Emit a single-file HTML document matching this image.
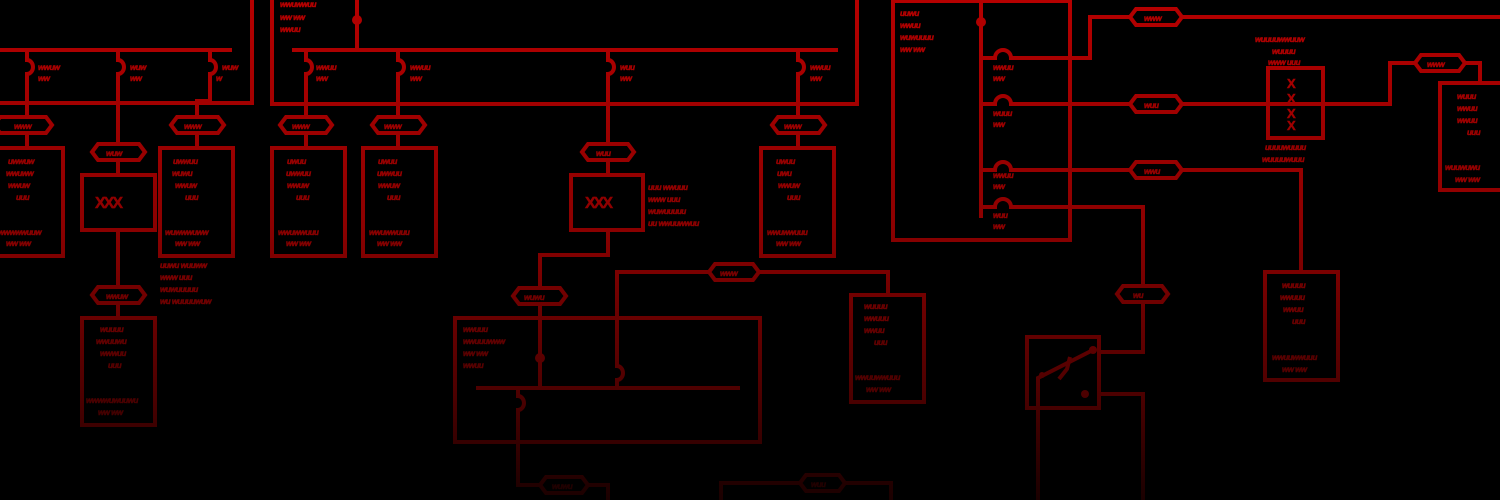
<!DOCTYPE html>
<html><head><meta charset="utf-8"><style>
html,body{margin:0;padding:0;background:#000;width:1500px;height:500px;overflow:hidden}
svg{display:block}
text{font-family:"Liberation Sans",sans-serif;font-size:8px;font-weight:bold;font-style:italic;letter-spacing:-0.5px}
</style></head><body>
<svg width="1500" height="500" viewBox="0 0 1500 500" xmlns="http://www.w3.org/2000/svg">
<defs>
<linearGradient id="g" gradientUnits="userSpaceOnUse" x1="0" y1="0" x2="0" y2="500">
<stop offset="0" stop-color="#b50000"/>
<stop offset="0.45" stop-color="#8c0000"/>
<stop offset="0.8" stop-color="#4a0000"/>
<stop offset="1" stop-color="#1a0000"/>
</linearGradient>
</defs>
<g fill="none" stroke="url(#g)" stroke-width="4" stroke-linejoin="miter">
<!-- LEFT SECTION -->
<path d="M252 0V103H0"/>
<path d="M0 50H232"/>
<path d="M27 50V60a6 7 0 0 1 0 14V117"/>
<path d="M27 133V148"/>
<path d="M118 50V60a6 7 0 0 1 0 14V144"/>
<path d="M118 160V175M118 230V287M118 303V318"/>
<path d="M210 50V60a6 7 0 0 1 0 14V101H197V117M197 133V148"/>
<path d="M-6 125l6-8h46l6 8l-6 8h-46z"/>
<path d="M92 152l6-8h41l6 8l-6 8h-41z"/>
<path d="M92 295l6-8h41l6 8l-6 8h-41z"/>
<path d="M171 125l6-8h41l6 8l-6 8h-41z"/>
<rect x="-10" y="148" width="73" height="108"/>
<rect x="82" y="175" width="73" height="55"/>
<rect x="82" y="318" width="73" height="107"/>
<rect x="160" y="148" width="73" height="108"/>
<!-- MIDDLE SECTION -->
<path d="M272 0V104H857V0"/>
<path d="M357 0V50M292 50H838"/>
<path d="M306 50V60a6 7 0 0 1 0 14V117M306 133V148"/>
<path d="M398 50V60a6 7 0 0 1 0 14V117M398 133V148"/>
<path d="M608 50V60a6 7 0 0 1 0 14V144M608 160V175M608 230V255H540V288M540 304V388"/>
<path d="M798 50V60a6 7 0 0 1 0 14V117M798 133V148"/>
<path d="M280 125l6-8h40l6 8l-6 8h-40z"/>
<path d="M372 125l6-8h41l6 8l-6 8h-41z"/>
<path d="M772 125l6-8h41l6 8l-6 8h-41z"/>
<path d="M582 152l6-8h40l6 8l-6 8h-40z"/>
<path d="M513 296l6-8h41l6 8l-6 8h-41z"/>
<rect x="272" y="148" width="73" height="108"/>
<rect x="363" y="148" width="73" height="108"/>
<rect x="761" y="148" width="73" height="108"/>
<rect x="571" y="175" width="72" height="55"/>
<rect x="455" y="318" width="305" height="124"/>
<path d="M476 388H740"/>
<path d="M617 388V380a6 7 0 0 0 0 -14V272H709M759 272H888V295"/>
<path d="M709 272l6-8h38l6 8l-6 8h-38z"/>
<rect x="851" y="295" width="73" height="107"/>
<path d="M518 388V396a6 7 0 0 1 0 14V485H540M588 485H608V500"/>
<path d="M540 485l6-8h36l6 8l-6 8h-36z"/>
<path d="M721 500V483H800M845 483H891V500"/>
<path d="M800 483l6-8h33l6 8l-6 8h-33z"/>
<!-- RIGHT SECTION -->
<rect x="893" y="1" width="177" height="239"/>
<path d="M981 0V218"/>
<path d="M981 58H995a8 8 0 0 1 16 0H1090V17H1130M1182 17H1500"/>
<path d="M1130 17l6-8h40l6 8l-6 8h-40z"/>
<path d="M981 104H995a8 8 0 0 1 16 0H1130M1182 104H1390V63H1415M1465 63H1480V83"/>
<path d="M1130 104l6-8h40l6 8l-6 8h-40z"/>
<path d="M1415 63l6-8h38l6 8l-6 8h-38z"/>
<rect x="1268" y="68" width="55" height="70"/>
<rect x="1440" y="83" width="65" height="107"/>
<path d="M981 170H995a8 8 0 0 1 16 0H1130M1182 170H1301V272"/>
<path d="M1130 170l6-8h40l6 8l-6 8h-40z"/>
<rect x="1265" y="272" width="73" height="108"/>
<path d="M981 207H995a8 8 0 0 1 16 0H1143V286M1143 302V352H1099"/>
<path d="M1117 294l6-8h39l6 8l-6 8h-39z"/>
<rect x="1027" y="337" width="72" height="71"/>
<path d="M1099 394H1143V500"/>
<path d="M1038 500V378L1093 350"/>
<path d="M1070 357l-3 12l-8 10"/>
</g>
<g fill="url(#g)">
<circle cx="357" cy="20" r="5"/>
<circle cx="981" cy="22" r="5"/>
<circle cx="540" cy="358" r="5"/>
<circle cx="1093" cy="350" r="4"/>
<circle cx="1085" cy="394" r="4"/>
<circle cx="1042" cy="375" r="3"/>
</g>
<g fill="url(#g)" stroke="url(#g)" stroke-width="0.5">
<!-- XXX symbols -->
<text x="95" y="208" style="font-size:16px;font-style:normal;letter-spacing:-2px">XXX</text>
<text x="585" y="208" style="font-size:16px;font-style:normal;letter-spacing:-2px">XXX</text>
<text x="1287" y="88" style="font-size:13px;font-style:normal">X</text>
<text x="1287" y="103" style="font-size:13px;font-style:normal">X</text>
<text x="1287" y="118" style="font-size:13px;font-style:normal">X</text>
<text x="1287" y="130" style="font-size:13px;font-style:normal">X</text>
<!-- left labels -->
<text x="38" y="70">wwuw</text><text x="38" y="81">ww</text>
<text x="130" y="70">wuw</text><text x="130" y="81">ww</text>
<text x="222" y="70">wuw</text><text x="216" y="81">w</text>
<text x="14" y="129">www</text><text x="106" y="156">wuw</text>
<text x="106" y="299">wwuw</text><text x="184" y="129">www</text>
<text x="8" y="164">uwwuw</text><text x="6" y="176">wwuww</text><text x="8" y="188">wwuw</text><text x="16" y="200">uuu</text>
<text x="-2" y="235">wwwwwuuw</text><text x="6" y="246">ww ww</text>
<text x="173" y="164">uwwuu</text><text x="172" y="176">wuwu</text><text x="175" y="188">wwuw</text><text x="185" y="200">uuu</text>
<text x="165" y="235">wuwwwuww</text><text x="175" y="246">ww ww</text>
<text x="160" y="268">uuwu wuuww</text><text x="160" y="280">www uuu</text><text x="160" y="292">wuwuuuuu</text><text x="160" y="304">wu wuuuuwuw</text>
<text x="100" y="332">wuuuu</text><text x="96" y="344">wwuuwu</text><text x="100" y="356">wwwuu</text><text x="108" y="368">uuu</text>
<text x="86" y="403">wwwwuwuuwu</text><text x="98" y="415">ww ww</text>
<!-- middle labels -->
<text x="280" y="7">wwuwwuu</text><text x="280" y="20">ww ww</text><text x="280" y="32">wwuu</text>
<text x="316" y="70">wwuu</text><text x="316" y="81">ww</text>
<text x="410" y="70">wwuu</text><text x="410" y="81">ww</text>
<text x="620" y="70">wuu</text><text x="620" y="81">ww</text>
<text x="810" y="70">wwuu</text><text x="810" y="81">ww</text>
<text x="292" y="129">www</text><text x="384" y="129">www</text><text x="784" y="129">www</text><text x="596" y="156">wuu</text>
<text x="287" y="164">uwuu</text><text x="286" y="176">uwwuu</text><text x="287" y="188">wwuw</text><text x="296" y="200">uuu</text>
<text x="278" y="235">wwuwwuuu</text><text x="286" y="246">ww ww</text>
<text x="378" y="164">uwuu</text><text x="377" y="176">uwwuu</text><text x="378" y="188">wwuw</text><text x="387" y="200">uuu</text>
<text x="369" y="235">wwuwwuuu</text><text x="377" y="246">ww ww</text>
<text x="776" y="164">uwuu</text><text x="777" y="176">uwu</text><text x="778" y="188">wwuw</text><text x="787" y="200">uuu</text>
<text x="767" y="235">wwuwwuuu</text><text x="776" y="246">ww ww</text>
<text x="648" y="190">uuu wwuuu</text><text x="648" y="202">www uuu</text><text x="648" y="214">wuwuuuuu</text><text x="648" y="226">uu wwuuwwuu</text>
<text x="720" y="276">www</text><text x="524" y="300">wuwu</text>
<text x="463" y="332">wwuuu</text><text x="463" y="344">wwuuuwww</text><text x="463" y="356">ww ww</text><text x="463" y="368">wwuu</text>
<text x="864" y="309">wuuuu</text><text x="864" y="321">wwuuu</text><text x="864" y="333">wwuu</text><text x="874" y="345">uuu</text>
<text x="855" y="380">wwuuwwuuu</text><text x="866" y="392">ww ww</text>
<text x="552" y="489">wuwu</text><text x="811" y="487">wuu</text>
<!-- right labels -->
<text x="900" y="16">uuwu</text><text x="900" y="28">wwuu</text><text x="900" y="40">wuwuuuu</text><text x="900" y="52">ww ww</text>
<text x="993" y="70">wwuu</text><text x="993" y="81">ww</text>
<text x="993" y="116">wuuu</text><text x="993" y="127">ww</text>
<text x="993" y="178">wwuu</text><text x="993" y="189">ww</text>
<text x="993" y="218">wuu</text><text x="993" y="229">ww</text>
<text x="1144" y="21">www</text><text x="1144" y="108">wuu</text><text x="1144" y="174">wwu</text><text x="1133" y="298">wu</text>
<text x="1427" y="67">www</text>
<text x="1255" y="42">wuuuuwwuuw</text><text x="1272" y="54">wuuuu</text><text x="1268" y="65">www uuu</text>
<text x="1265" y="150">uuuuwuuuu</text><text x="1262" y="162">wuuuuwuuu</text>
<text x="1457" y="99">wuuu</text><text x="1457" y="111">wwuu</text><text x="1457" y="123">wwuu</text><text x="1467" y="135">uuu</text>
<text x="1445" y="170">wuuwuwu</text><text x="1455" y="182">ww ww</text>
<text x="1282" y="288">wuuuu</text><text x="1280" y="300">wwuuu</text><text x="1283" y="312">wwuu</text><text x="1292" y="324">uuu</text>
<text x="1272" y="360">wwuuwwuuu</text><text x="1282" y="372">ww ww</text>
</g>
</svg>
</body></html>
